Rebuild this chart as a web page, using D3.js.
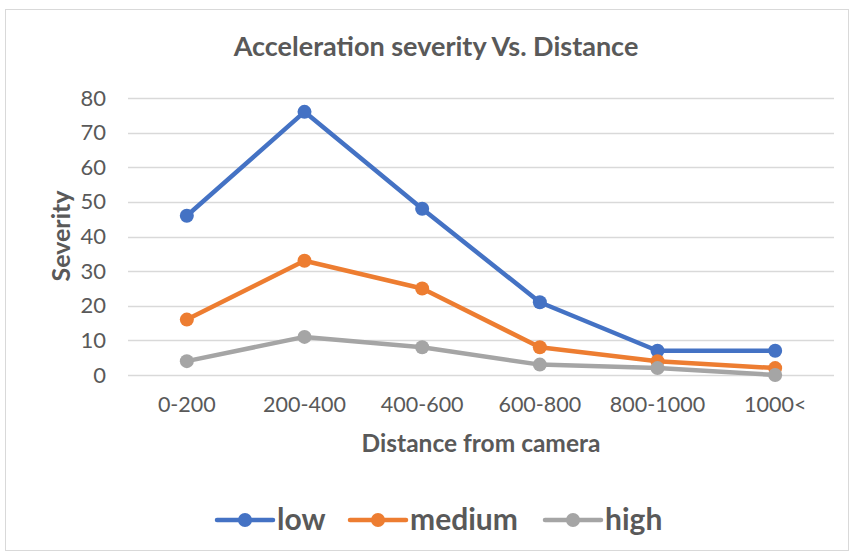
<!DOCTYPE html>
<html>
<head>
<meta charset="utf-8">
<script src="https://cdn.jsdelivr.net/npm/d3@7"></script>
<style>
  html, body { margin: 0; padding: 0; background: #fff; }
  svg { display: block; font-family: Lato, "Open Sans", sans-serif; }
</style>
</head>
<body>
<svg id="chart" width="854" height="559"></svg>
<script>
// Chart data
const categories = ["0-200", "200-400", "400-600", "600-800", "800-1000", "1000<"];
const lowValues = [46, 76, 48, 21, 7, 7];
const mediumValues = [16, 33, 25, 8, 4, 2];
const highValues = [4, 11, 8, 3, 2, 0];
const yTicks = [0, 10, 20, 30, 40, 50, 60, 70, 80];
const seriesNames = ["low", "medium", "high"];
const seriesColors = ["#4472C4", "#ED7D31", "#A5A5A5"];

const series = [
  { name: seriesNames[0], values: lowValues, color: seriesColors[0] },
  { name: seriesNames[1], values: mediumValues, color: seriesColors[1] },
  { name: seriesNames[2], values: highValues, color: seriesColors[2] }
];

const svg = d3.select("#chart");
const textColor = "#595959";

// outer frame
svg.append("rect")
  .attr("x", 5.5).attr("y", 9.5)
  .attr("width", 843).attr("height", 541)
  .attr("fill", "#fff").attr("stroke", "#D9D9D9").attr("stroke-width", 1);

const plot = { left: 128, right: 834, top: 98, bottom: 375 };

const x = d3.scaleBand().domain(categories).range([plot.left, plot.right]);
const y = d3.scaleLinear().domain([0, 80]).range([plot.bottom, plot.top]);

// gridlines
svg.append("g")
  .selectAll("line")
  .data(yTicks)
  .join("line")
  .attr("x1", plot.left).attr("x2", plot.right)
  .attr("y1", d => Math.round(y(d)) + 0.5).attr("y2", d => Math.round(y(d)) + 0.5)
  .attr("stroke", "#D9D9D9").attr("stroke-width", 1.3);

// y axis labels
const yAxis = d3.axisLeft(y).tickValues(yTicks).tickSize(0).tickPadding(0);
const yG = svg.append("g").attr("transform", `translate(106,0)`).call(yAxis);
yG.select(".domain").remove();
yG.selectAll("text")
  .attr("fill", textColor)
  .style("font-size", "22px")
  .style("font-family", "Lato, sans-serif");

// x axis labels
const xAxis = d3.axisBottom(x).tickSize(0).tickPadding(0);
const xG = svg.append("g").attr("transform", `translate(0,${plot.bottom + 22})`).call(xAxis);
xG.select(".domain").remove();
xG.selectAll("text")
  .attr("fill", textColor)
  .style("font-size", "21.5px")
  .style("font-family", "Lato, sans-serif");

// lines and markers
const line = d3.line()
  .x((d, i) => x(categories[i]) + x.bandwidth() / 2)
  .y(d => y(d));

series.forEach(s => {
  svg.append("path")
    .datum(s.values)
    .attr("d", line)
    .attr("fill", "none")
    .attr("stroke", s.color)
    .attr("stroke-width", 4.5)
    .attr("stroke-linejoin", "round")
    .attr("stroke-linecap", "round");
  svg.append("g")
    .selectAll("circle")
    .data(s.values)
    .join("circle")
    .attr("cx", (d, i) => x(categories[i]) + x.bandwidth() / 2)
    .attr("cy", d => y(d))
    .attr("r", 7)
    .attr("fill", s.color);
});

// title
svg.append("text")
  .attr("x", 436).attr("y", 56)
  .attr("text-anchor", "middle")
  .attr("fill", textColor)
  .style("font-size", "27px").style("font-weight", "bold")
  .text("Acceleration severity Vs. Distance");

// axis titles
svg.append("text")
  .attr("x", 481).attr("y", 452)
  .attr("text-anchor", "middle")
  .attr("fill", textColor)
  .style("font-size", "24.5px").style("font-weight", "bold")
  .text("Distance from camera");

svg.append("text")
  .attr("transform", "translate(70,236) rotate(-90)")
  .attr("text-anchor", "middle")
  .attr("fill", textColor)
  .style("font-size", "25px").style("font-weight", "bold")
  .text("Severity");

// legend
const legendX = [217, 350, 545];
const legend = svg.append("g");
series.forEach((s, i) => {
  const g = legend.append("g").attr("transform", `translate(${legendX[i]},520)`);
  g.append("line")
    .attr("x1", 0).attr("x2", 56).attr("y1", 0).attr("y2", 0)
    .attr("stroke", s.color).attr("stroke-width", 4.5).attr("stroke-linecap", "round");
  g.append("circle").attr("cx", 28).attr("cy", 0).attr("r", 7).attr("fill", s.color);
  g.append("text")
    .attr("x", 60).attr("y", 10)
    .attr("fill", textColor)
    .style("font-size", "30px").style("font-weight", "bold")
    .text(s.name);
});
</script>
</body>
</html>
